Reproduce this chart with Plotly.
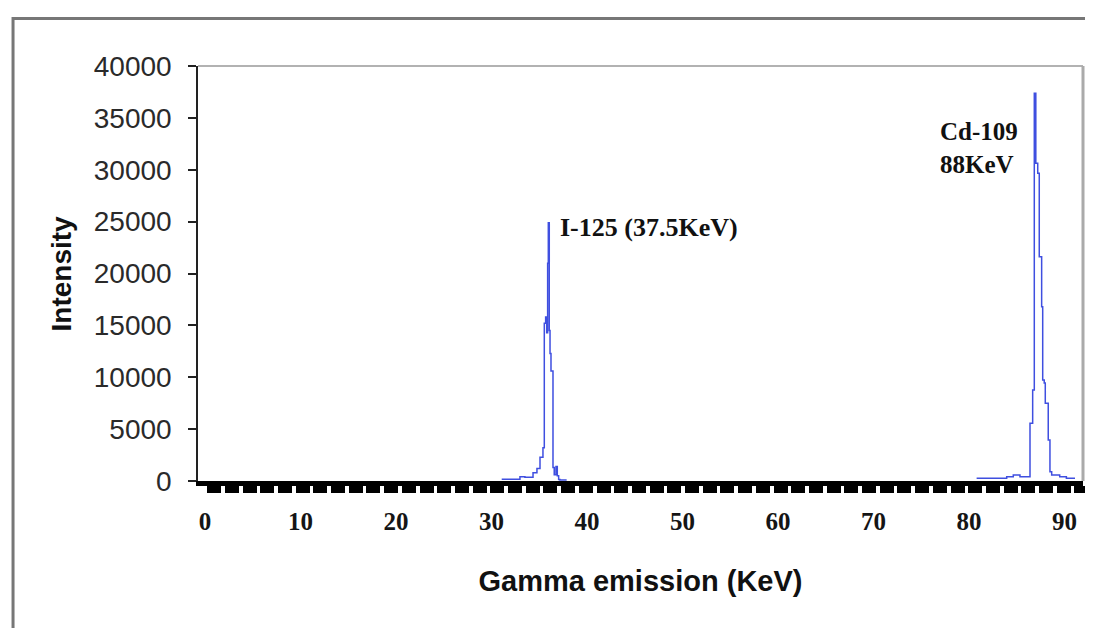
import plotly.graph_objects as go

# ---- data ----
energy_i125 = [31.07, 32.98, 33.50, 34.35, 34.76, 35.08, 35.39, 35.53, 35.67, 35.78,
               35.88, 35.95, 36.05, 36.13, 36.23, 36.44, 36.57, 36.75, 36.89, 37.03,
               37.17, 37.87]
counts_i125 = [160, 400, 350, 800, 1200, 2300, 3200, 15200, 15800, 14300,
               21000, 24900, 14500, 12300, 10600, 1300, 600, 1400, 500, 150,
               100, 100]

energy_cd109 = [80.80, 83.95, 84.64, 85.34, 86.20, 86.39, 86.67, 86.84, 87.00, 87.20,
                87.36, 87.61, 87.72, 87.88, 87.99, 88.30, 88.48, 88.66, 89.50, 90.20,
                91.10]
counts_cd109 = [260, 420, 580, 420, 420, 5560, 8770, 37370, 30620, 29660,
                21620, 16800, 9730, 9440, 7500, 3950, 900, 580, 420, 260,
                260]

x_tick_labels = [0, 10, 20, 30, 40, 50, 60, 70, 80, 90]
y_ticks = [0, 5000, 10000, 15000, 20000, 25000, 30000, 35000, 40000]

x_title = "Gamma emission (KeV)"
y_title = "Intensity"
label_i125 = "I-125 (37.5KeV)"
label_cd109 = "Cd-109<br>88KeV"

# one series, broken between the two peaks
x_all = energy_i125 + [None] + energy_cd109
y_all = counts_i125 + [None] + counts_cd109

fig = go.Figure()
fig.add_trace(go.Scatter(
    x=x_all, y=y_all, mode="lines",
    line=dict(color="#3F4FE0", width=1.5, shape="hv"),
    connectgaps=False, showlegend=False, hoverinfo="x+y",
))

serif = "Liberation Serif, Times New Roman, serif"
sans = "Liberation Sans, Arial, sans-serif"

# the page body has an 8px margin, so the figure is 8px smaller than the window
fig.update_layout(
    width=1085, height=620,
    margin=dict(l=190, r=10, t=58, b=147),
    paper_bgcolor="white", plot_bgcolor="white",
    showlegend=False,
    xaxis=dict(
        range=[-0.733, 91.94],
        tickvals=x_tick_labels,
        ticktext=[str(v) for v in x_tick_labels],
        tickfont=dict(family=serif, size=25, color="#151515", weight="bold"),
        ticks="outside", ticklen=0, tickcolor="rgba(0,0,0,0)",
        ticklabelstandoff=14,
        showgrid=False, zeroline=False,
        showline=True, linecolor="black", linewidth=5,
        minor=dict(ticks="outside", tick0=2.812, dtick=1.8534,
                   ticklen=7, tickwidth=14, tickcolor="black", showgrid=False),
        title=dict(text="<b>" + x_title + "</b>",
                   font=dict(family=sans, size=29, color="#111"), standoff=38),
        fixedrange=True,
    ),
    yaxis=dict(
        range=[0, 40000],
        tickvals=y_ticks,
        ticktext=[str(v) for v in y_ticks],
        tickfont=dict(family=sans, size=28, color="#2a2a2a"),
        ticks="outside", ticklen=8, tickwidth=1.5, tickcolor="#222",
        ticklabelstandoff=11,
        showgrid=False, zeroline=False,
        showline=True, linecolor="#222", linewidth=1.5,
        fixedrange=True,
    ),
    annotations=[
        # y-axis title, placed to the left of the tick labels
        dict(x=-0.1548, y=0.5, xref="paper", yref="paper", text="<b>" + y_title + "</b>",
             textangle=-90, showarrow=False, xanchor="center", yanchor="middle",
             font=dict(family=sans, size=28, color="#111")),
        dict(x=36.96, y=24480, xref="x", yref="y", text="<b>" + label_i125 + "</b>",
             showarrow=False, xanchor="left", yanchor="middle",
             font=dict(family=serif, size=26, color="#111")),
        dict(x=81.05, y=32100, xref="x", yref="y", text="<b>" + label_cd109 + "</b>",
             showarrow=False, xanchor="center", yanchor="middle", align="left",
             font=dict(family=serif, size=25, color="#111")),
    ],
    shapes=[
        # outer frame of the figure
        dict(type="rect", xref="paper", yref="paper",
             x0=-0.209, y0=-0.5, x1=1.3, y1=1.1145,
             line=dict(color="#777", width=3), fillcolor="rgba(0,0,0,0)", layer="below"),
        # plot-area border (top and right)
        dict(type="line", xref="paper", yref="paper", x0=0, x1=1, y0=1, y1=1,
             line=dict(color="#999", width=1.5)),
        dict(type="line", xref="paper", yref="paper", x0=1, x1=1, y0=0, y1=1,
             line=dict(color="#aaa", width=3)),
    ],
)

fig.write_html("out.html")
